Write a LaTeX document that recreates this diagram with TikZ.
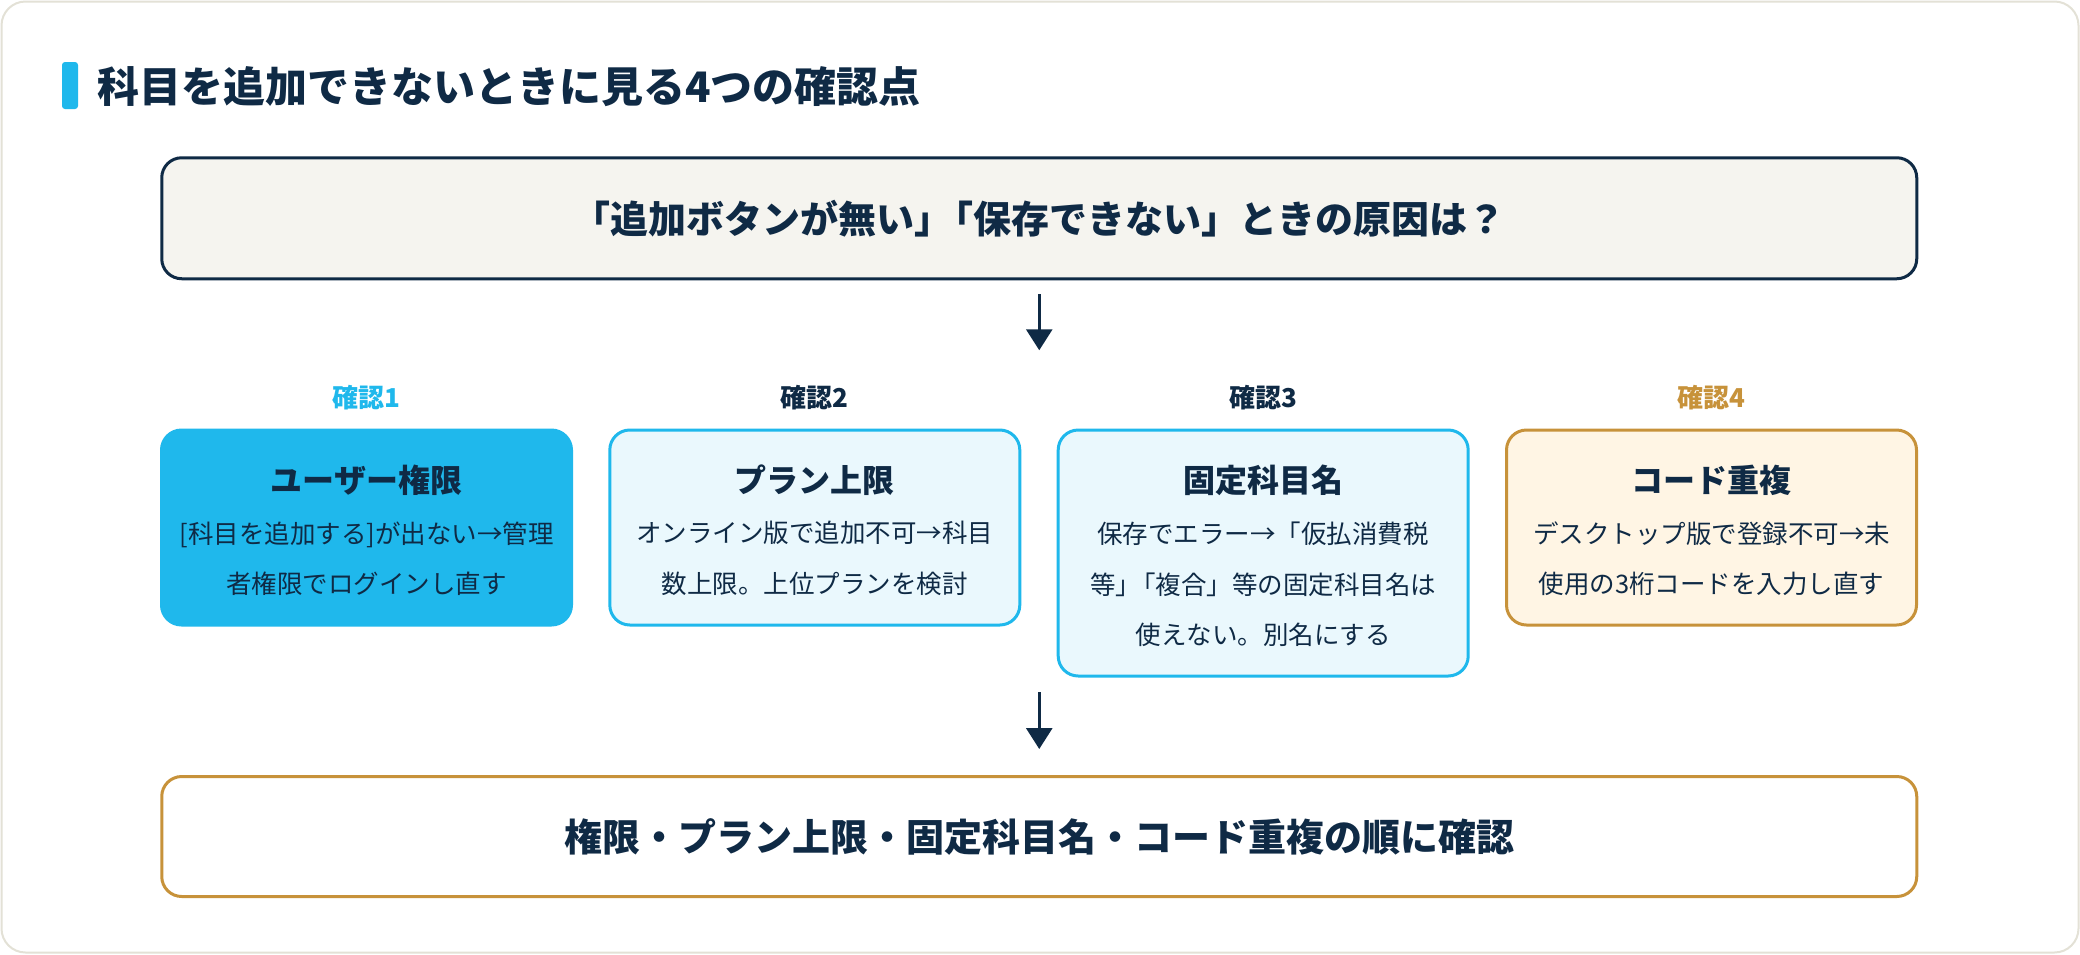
\documentclass[tikz,border=0pt]{standalone}
\usepackage{fontspec}
\setmainfont{Noto Sans CJK JP}
\usetikzlibrary{arrows.meta,calc}
\definecolor{navy}{HTML}{0F2A45}
\definecolor{cyanc}{HTML}{1FB8EC}
\definecolor{lightcyan}{HTML}{EAF8FD}
\definecolor{goldc}{HTML}{C7923A}
\definecolor{cream}{HTML}{FFF5E4}
\definecolor{topfill}{HTML}{F5F4EF}
\definecolor{framec}{HTML}{E3E1D6}
\newcommand{\tk}{\kern-0.45em}
\begin{document}
\begin{tikzpicture}[x=1pt,y=-1pt,
  frame/.style={draw=framec,line width=2pt,fill=white,rounded corners=24pt},
  bigbox/.style={rounded corners=20pt,line width=3pt,minimum width=1755pt,minimum height=121pt,inner sep=0pt,text=navy,font=\fontsize{38}{44}\selectfont\bfseries},
  card/.style={rounded corners=20pt,line width=3pt,minimum width=410pt,inner sep=0pt},
  cardA/.style={card,fill=cyanc,draw=cyanc},
  cardB/.style={card,fill=lightcyan,draw=cyanc},
  cardD/.style={card,fill=cream,draw=goldc},
  ctitle/.style={text=navy,inner sep=0pt,font=\fontsize{32}{38}\selectfont\bfseries},
  cbody/.style={text=navy,inner sep=0pt,align=center,font=\fontsize{25.5}{50.5}\selectfont},
  clabel/.style={inner sep=0pt,font=\fontsize{26}{30}\selectfont\bfseries},
  arr/.style={draw=navy,line width=3pt,-{Triangle[width=26pt,length=21pt]}}]
\useasboundingbox (0,0) rectangle (2080,954);
\draw[frame] (1.5,1.5) rectangle (2078.5,952.5);
\fill[cyanc,rounded corners=3pt] (62,62) rectangle (78,109);
\node[anchor=west,inner sep=0pt,text=navy,font=\fontsize{42}{50}\selectfont\bfseries] (title) at (97,87) {科目を追加できないときに見る4つの確認点};
% top box
\node[bigbox,draw=navy,fill=topfill] (top) at (1039.25,218.25) {「追加ボタンが無い」\tk「保存できない」ときの原因は？};
\path (top.south) ++(0,70) coordinate (a1e);
\draw[arr,shorten <=14pt] (top.south) -- (a1e);
% cards
\node[cardA,minimum height=195pt] (b1) at (366.5,527.5) {};
\node[cardB,minimum height=195pt] (b2) at (814.8,527.5) {};
\node[cardB,minimum height=246pt] (b3) at (1263.2,553) {};
\node[cardD,minimum height=195pt] (b4) at (1711.5,527.5) {};
\node[clabel,text=cyanc] (l1) at ($(b1.north)+(0,-31)$) {確認1};
\node[clabel,text=navy] (l2) at ($(b2.north)+(0,-31)$) {確認2};
\node[clabel,text=navy] (l3) at ($(b3.north)+(0,-31)$) {確認3};
\node[clabel,text=goldc] (l4) at ($(b4.north)+(0,-31)$) {確認4};
\node[ctitle] (t1) at ($(b1.north)+(0,52)$) {ユーザー権限};
\node[ctitle] (t2) at ($(b2.north)+(0,52)$) {プラン上限};
\node[ctitle] (t3) at ($(b3.north)+(0,52)$) {固定科目名};
\node[ctitle] (t4) at ($(b4.north)+(0,52)$) {コード重複};
\node[cbody] (d1) at ($(b1.north)+(0,130)$) {[科目を追加する]が出ない→管理\\者権限でログインし直す};
\node[cbody] (d2) at ($(b2.north)+(0,130)$) {オンライン版で追加不可→科目\\数上限。上位プランを検討};
\node[cbody] (d3) at ($(b3.north)+(0,156)$) {保存でエラー→「仮払消費税\\等」\tk「複合」等の固定科目名は\\使えない。別名にする};
\node[cbody] (d4) at ($(b4.north)+(0,130)$) {デスクトップ版で登録不可→未\\使用の3桁コードを入力し直す};
% bottom box
\node[bigbox,draw=goldc,fill=white,minimum height=120pt] (bot) at (1039.25,836.5) {権限・プラン上限・固定科目名・コード重複の順に確認};
\coordinate (a2s) at (1039.25,692);
\draw[arr,shorten >=26pt] (a2s) -- (bot.north);
\end{tikzpicture}
\end{document}
